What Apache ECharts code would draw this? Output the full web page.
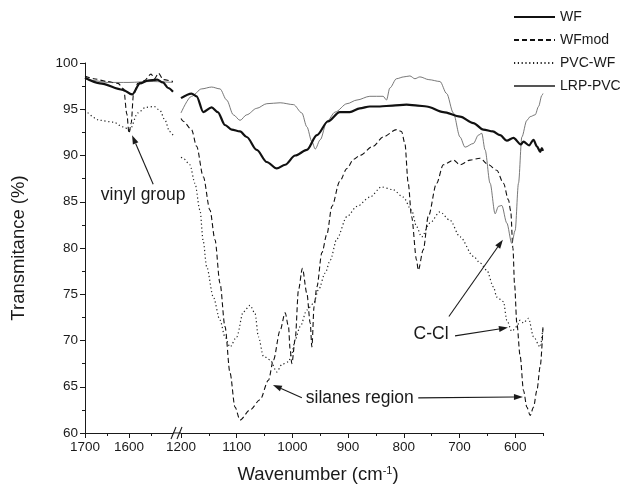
<!DOCTYPE html>
<html>
<head>
<meta charset="utf-8">
<script src="https://cdn.jsdelivr.net/npm/echarts@6/dist/echarts.min.js"></script>
<style>
  html, body { margin: 0; padding: 0; background: #fff; }
  #chart { width: 636px; height: 491px; }
</style>
</head>
<body>
<div id="chart"></div>
<script>
// FTIR spectra, [wavenumber (cm-1), transmittance (%)]
const wf = [
  [1700,98.4],[1666,97.8],[1614,97.1],[1593,96.6],[1575,97.8],[1557,98.1],[1536,98.2],[1523,97.9],[1511,97.3],[1500,96.9],
  [1200,96.2],[1181,96.7],[1172,96.4],[1160,94.7],[1145,95.2],[1134,94.7],[1121,93.3],[1109,92.8],[1094,92.6],[1082,92.0],
  [1064,90.6],[1046,89.3],[1028,88.6],[1013,89.0],[995,90.0],[974,90.6],[956,92.2],[936,93.7],[915,94.7],[897,94.7],
  [879,95.1],[861,95.3],[843,95.3],[820,95.4],[795,95.5],[775,95.4],[759,95.3],[729,94.7],[699,94.2],[675,93.5],
  [657,92.8],[640,92.6],[627,92.2],[615,91.6],[603,91.9],[590,91.2],[585,91.5],[575,91.1],[567,91.7],[561,91.0],
  [555,90.4],[552,90.8],[550,90.5]
];
const wfMod = [
  [1700,98.6],[1680,98.3],[1650,98.0],[1625,97.8],[1612,97.2],[1605,94.5],[1600,92.4],[1595,93.5],[1590,96.5],[1580,97.8],
  [1565,98.1],[1550,98.8],[1542,98.3],[1533,98.9],[1522,98.2],[1500,98.0],
  [1200,94.0],[1196,93.7],[1181,92.8],[1172,91.0],[1160,87.7],[1148,84.1],[1139,80.9],[1130,76.2],[1121,71.5],[1112,66.5],
  [1103,62.8],[1094,61.4],[1076,62.5],[1058,63.6],[1043,65.7],[1034,67.9],[1022,71.1],[1013,73.0],[1007,71.5],[1004,69.0],
  [1001,67.5],[995,70.1],[989,75.5],[982,77.8],[974,75.1],[968,71.9],[965,69.3],[961,73.7],[956,75.8],[947,79.5],
  [938,81.5],[929,84.5],[915,87.2],[902,88.6],[890,89.6],[879,90.0],[855,91.0],[837,92.0],[813,92.8],[804,92.6],
  [798,91.3],[792,87.0],[786,83.4],[777,78.7],[774,77.6],[765,79.8],[756,83.4],[741,87.0],[729,89.0],[711,89.5],
  [699,89.0],[681,89.5],[663,89.7],[648,89.0],[633,88.4],[621,87.0],[612,85.2],[608,84.0],[604,80.0],[601,76.0],
  [597,71.9],[591,68.3],[585,64.6],[579,62.8],[573,61.9],[567,62.8],[561,64.6],[555,67.2],[550,71.5]
];
const pvcWf = [
  [1700,94.9],[1666,93.8],[1635,93.6],[1614,93.1],[1598,92.8],[1580,94.6],[1562,95.2],[1543,95.3],[1530,94.9],[1518,93.8],
  [1508,92.6],[1500,92.2],
  [1200,89.8],[1196,89.7],[1184,89.0],[1175,87.0],[1166,84.1],[1160,80.7],[1154,78.0],[1142,74.7],[1130,72.2],[1121,70.4],
  [1112,69.3],[1100,70.4],[1088,73.1],[1076,73.8],[1067,72.9],[1061,70.4],[1052,68.3],[1040,67.9],[1028,66.6],[1019,67.4],
  [1007,67.7],[1001,68.6],[995,70.1],[986,71.5],[974,73.3],[962,74.0],[953,75.5],[941,77.3],[932,78.7],[920,81.0],
  [902,83.4],[884,84.5],[861,85.5],[840,86.6],[819,86.3],[801,85.5],[786,84.1],[777,82.3],[768,81.2],[753,82.7],
  [735,83.9],[717,83.0],[699,81.2],[675,79.1],[663,78.4],[651,77.6],[639,75.8],[633,74.7],[621,74.2],[615,72.2],
  [606,71.0],[597,71.5],[591,72.2],[585,71.9],[576,72.4],[567,70.4],[555,69.3],[550,71.5]
];
const lrpPvc = [
  [1700,98.3],[1680,98.1],[1650,97.9],[1600,97.9],[1550,98.0],[1500,97.9],
  [1200,94.6],[1181,96.4],[1163,97.2],[1145,97.4],[1130,97.2],[1118,96.0],[1106,94.4],[1094,93.8],[1082,94.4],[1064,95.1],
  [1046,95.6],[1022,95.7],[998,95.5],[983,94.6],[974,93.1],[965,91.5],[959,90.7],[950,91.7],[938,93.7],[923,94.7],
  [902,95.6],[884,96.0],[861,96.4],[837,96.4],[831,96.0],[825,97.3],[813,98.3],[800,98.5],[789,98.6],[780,98.3],
  [771,98.5],[755,98.2],[735,98.0],[723,96.7],[711,94.6],[699,92.0],[690,90.9],[675,91.3],[666,92.2],[660,92.4],
  [654,90.6],[645,87.0],[636,83.7],[630,84.5],[624,84.6],[615,82.7],[606,80.5],[600,81.9],[594,87.0],[588,92.0],
  [579,93.8],[573,94.2],[564,94.4],[558,95.3],[552,96.5],[550,96.7]
];

// Broken wavenumber axis: two segments
const leftRange = [1500, 1700];
const rightRange = [550, 1200];
const leftMajor = [1600, 1700];
const leftMinor = [1550, 1650];
const rightMajor = [600, 700, 800, 900, 1000, 1100, 1200];
const rightMinor = [550, 650, 750, 850, 950, 1050, 1150];

const FONT = '"Liberation Sans", Arial, Helvetica, sans-serif';
const INK = '#1a1a1a';

const styles = {
  'WF':      { data: wf,     lineStyle: { color: '#111', width: 2.2, type: 'solid' } },
  'WFmod':   { data: wfMod,  lineStyle: { color: '#111', width: 1.1, type: [5, 3] } },
  'PVC-WF':  { data: pvcWf,  lineStyle: { color: '#222', width: 1.2, type: [1.2, 2.6] } },
  'LRP-PVC': { data: lrpPvc, lineStyle: { color: '#555', width: 0.8, type: 'solid' } }
};

const series = [];
Object.keys(styles).forEach(function (name) {
  const s = styles[name];
  const left = s.data.filter(function (p) { return p[0] >= leftRange[0]; });
  const right = s.data.filter(function (p) { return p[0] <= rightRange[1]; });
  [[left, 0, 0], [right, 2, 1]].forEach(function (part) {
    series.push({
      name: name, type: 'line', data: part[0],
      xAxisIndex: part[1], yAxisIndex: part[2],
      showSymbol: false, symbol: 'none',
      smooth: 0.3, smoothMonotone: 'x',
      lineStyle: s.lineStyle, color: s.lineStyle.color,
      z: name === 'WF' ? 5 : 3
    });
  });
});

const GRID_TOP = 63, GRID_H = 370;
const tickStyle = { color: INK, width: 1 };
const plain = function (v) { return String(v); };

function xAxisPair(gridIndex, range, major, minor) {
  return [{
    type: 'value', gridIndex: gridIndex, position: 'bottom',
    min: range[0], max: range[1], inverse: true,
    axisLine: { show: true, lineStyle: { color: INK, width: 1 } },
    axisTick: { show: true, inside: false, length: 5, customValues: major, lineStyle: tickStyle },
    axisLabel: { show: true, customValues: major, formatter: plain, color: INK, fontSize: 13.5, fontFamily: FONT, margin: 7 },
    splitLine: { show: false }
  }, {
    type: 'value', gridIndex: gridIndex, position: 'bottom',
    min: range[0], max: range[1], inverse: true,
    axisLine: { show: false },
    axisTick: { show: true, inside: false, length: 3, customValues: minor, lineStyle: tickStyle },
    axisLabel: { show: false },
    splitLine: { show: false }
  }];
}

const option = {
  animation: false,
  backgroundColor: '#fff',
  grid: [
    { left: 85, top: GRID_TOP, width: 88, height: GRID_H },
    { left: 181, top: GRID_TOP, width: 362, height: GRID_H }
  ],
  xAxis: xAxisPair(0, leftRange, leftMajor, leftMinor).concat(xAxisPair(1, rightRange, rightMajor, rightMinor)),
  yAxis: [{
    type: 'value', gridIndex: 0, min: 60, max: 100, interval: 5,
    name: 'Transmitance (%)', nameLocation: 'middle', nameGap: 57, nameRotate: 90,
    nameTextStyle: { color: INK, fontSize: 18.5, fontFamily: FONT },
    axisLine: { show: true, lineStyle: { color: INK, width: 1 } },
    axisTick: { show: true, length: 5, lineStyle: tickStyle },
    minorTick: { show: true, splitNumber: 2, length: 3, lineStyle: tickStyle },
    axisLabel: { formatter: plain, color: INK, fontSize: 13.5, fontFamily: FONT, margin: 7 },
    splitLine: { show: false }
  }, {
    type: 'value', gridIndex: 1, min: 60, max: 100, interval: 5, show: false
  }],
  legend: {
    orient: 'vertical', left: 513, top: 10, padding: 0,
    itemWidth: 41, itemHeight: 14, itemGap: 9,
    itemStyle: { color: 'rgba(0,0,0,0)', borderWidth: 0, opacity: 0 },
    textStyle: { color: INK, fontSize: 14, fontFamily: FONT },
    data: ['WF', 'WFmod', 'PVC-WF', 'LRP-PVC']
  },
  series: series
};

const chart = echarts.init(document.getElementById('chart'), null, { renderer: 'canvas' });
chart.setOption(option);

// Annotations placed in data coordinates of each axis segment
function px(seg, wn, t) {
  return seg === 'L'
    ? chart.convertToPixel({ xAxisIndex: 0, yAxisIndex: 0 }, [wn, t])
    : chart.convertToPixel({ xAxisIndex: 2, yAxisIndex: 1 }, [wn, t]);
}

function arrow(tail, head) {
  const dx = head[0] - tail[0], dy = head[1] - tail[1];
  const len = Math.sqrt(dx * dx + dy * dy);
  const ux = dx / len, uy = dy / len;
  const hl = 9, hw = 3;
  const bx = head[0] - ux * hl, by = head[1] - uy * hl;
  return [{
    type: 'line', silent: true,
    shape: { x1: tail[0], y1: tail[1], x2: bx, y2: by },
    style: { stroke: INK, lineWidth: 1.1 }
  }, {
    type: 'polygon', silent: true,
    shape: { points: [[head[0], head[1]], [bx - uy * hw, by + ux * hw], [bx + uy * hw, by - ux * hw]] },
    style: { fill: INK }
  }];
}

function label(text, p, align) {
  return {
    type: 'text', silent: true, x: p[0], y: p[1],
    style: { text: text, fill: INK, font: '17.5px ' + FONT, align: align || 'center', verticalAlign: 'middle' }
  };
}

const gLeft = option.grid[0], gRight = option.grid[1];
const axisY = GRID_TOP + GRID_H;
const leftEnd = gLeft.left + gLeft.width;
const rightStart = gRight.left;

const graphics = [
  // axis segment bridging the break, and the break marks
  { type: 'line', silent: true, shape: { x1: leftEnd, y1: axisY, x2: rightStart, y2: axisY }, style: { stroke: INK, lineWidth: 1 } },
  { type: 'line', silent: true, shape: { x1: leftEnd - 2, y1: axisY + 6, x2: leftEnd + 3, y2: axisY - 6 }, style: { stroke: INK, lineWidth: 1.1 } },
  { type: 'line', silent: true, shape: { x1: leftEnd + 4, y1: axisY + 6, x2: leftEnd + 9, y2: axisY - 6 }, style: { stroke: INK, lineWidth: 1.1 } },
  // x axis title
  {
    type: 'text', silent: true, x: 318, y: axisY + 42,
    style: {
      text: 'Wavenumber (cm{sup|-1})', fill: INK, font: '18.5px ' + FONT,
      align: 'center', verticalAlign: 'middle',
      rich: { sup: { fontSize: 11, fontFamily: FONT, fill: INK, verticalAlign: 'top', padding: [0, 0, 9, 0] } }
    }
  },
  label('vinyl group', px('L', 1568, 85.7)),
  label('silanes region', px('R', 879, 63.8)),
  label('C-Cl', px('R', 751, 70.7))
]
  .concat(arrow(px('L', 1545, 86.9), px('L', 1593, 92.2)))
  .concat(arrow(px('R', 983, 63.8), px('R', 1035, 65.2)))
  .concat(arrow(px('R', 774, 63.8), px('R', 586, 63.9)))
  .concat(arrow(px('R', 719, 72.6), px('R', 622, 80.9)))
  .concat(arrow(px('R', 708, 70.5), px('R', 613, 71.4)));

chart.setOption({ graphic: graphics });
</script>
</body>
</html>
